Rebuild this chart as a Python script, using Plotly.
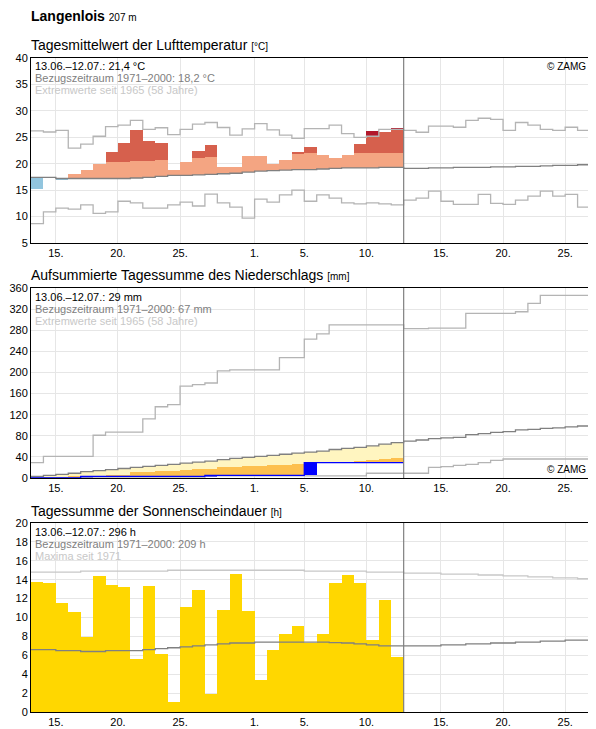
import plotly.graph_objects as go

# day index 0 = 13.06., 30 days observed, 45 days shown
tick_pos = [2, 7, 12, 18, 22, 27, 33, 38, 43]
tick_txt = ['15.', '20.', '25.', '1.', '5.', '10.', '15.', '20.', '25.']

# --- temperature ---
t_act = [15.3, 17.3, 17.0, 18.1, 18.85, 20.0, 22.25, 23.95, 26.4, 24.3,
         24.0, 18.85, 20.4, 22.4, 23.6, 19.4, 19.4, 21.5, 21.5, 20.0,
         20.7, 22.2, 23.2, 21.7, 21.1, 21.7, 23.8, 26.1, 26.0, 26.7]
t_thr = [20.2, 20.2, 20.2, 20.2, 20.2, 20.2, 20.3, 20.3, 20.5, 20.5,
         20.7, 20.7, 20.9, 21.1, 21.3, 21.3, 21.3, 21.5, 21.5, 21.7,
         21.7, 22.0, 22.0, 22.0, 22.0, 22.0, 22.0, 22.0, 22.0, 22.0]
t_mean = [17.4, 17.4, 17.2, 17.2, 17.2, 17.2, 17.2, 17.2, 17.3, 17.4,
          17.6, 17.8, 17.8, 17.9, 18.0, 18.1, 18.2, 18.4, 18.6, 18.7,
          18.8, 18.9, 18.9, 19.0, 19.1, 19.2, 19.2, 19.2, 19.3, 19.3,
          19.1, 19.1, 19.2, 19.2, 19.3, 19.3, 19.3, 19.4, 19.4, 19.5,
          19.5, 19.6, 19.7, 19.7, 19.8]
t_max = [26.2, 26.0, 26.3, 22.95, 23.7, 25.2, 27.0, 27.3, 28.2, 26.5,
         26.8, 25.5, 26.5, 27.5, 27.8, 26.85, 25.4, 26.6, 27.6, 26.4,
         25.4, 24.8, 26.65, 26.65, 27.3, 25.7, 25.0, 25.2, 26.5, 26.5,
         26.3, 25.95, 27.1, 27.1, 26.9, 28.2, 28.6, 28.4, 26.3, 27.8,
         27.3, 26.5, 26.3, 26.9, 26.3]
t_min = [8.65, 10.9, 11.6, 11.4, 12.2, 10.6, 10.9, 12.9, 12.6, 11.6,
         11.6, 12.2, 12.75, 12.0, 14.25, 12.6, 11.8, 9.7, 13.3, 12.75,
         14.1, 15.0, 12.9, 14.1, 13.5, 12.6, 12.4, 12.6, 12.4, 12.2,
         13.1, 13.5, 14.8, 12.9, 12.3, 12.3, 14.2, 12.5, 12.3, 13.1,
         13.85, 14.8, 13.85, 14.2, 11.8]

# --- precipitation (cumulative) ---
p_act = [0, 0, 0, 0, 3, 3, 3, 3, 3, 3, 3, 3, 3, 3, 5, 5, 5, 5, 5, 5,
         5, 5, 29, 29, 29, 29, 29, 29, 29, 29]
p_low = [1, 1.5, 2, 3, 3, 4, 5, 6, 11, 12, 13, 14, 15, 17, 18, 20, 21, 22,
         23, 24, 25, 26, 28, 29, 30, 31, 33, 35, 36, 37]
p_mean = [3, 5, 7, 9, 12, 14, 16, 18, 20, 22, 24, 26, 28, 30, 32, 35, 37,
          39, 41, 43, 45, 47, 49, 51, 54, 56, 58, 61, 64, 67,
          70, 72, 74.5, 76, 77, 82, 84, 86.5, 88, 91, 92, 94, 95, 97, 98.5]
p_max = [29, 41, 41, 41, 41, 81, 87, 87, 87, 112, 135, 139, 174, 177, 180,
         203, 205, 205, 205, 205, 228, 228, 263, 273, 290, 290, 290, 290,
         290, 290, 283, 283, 284, 284, 284, 312, 312, 312, 312, 315, 331,
         346, 346, 346, 346]
p_min = [0, 0, 0, 0, 0, 0, 0, 0, 0, 0, 0, 0, 0, 0, 4, 4, 4, 4, 4, 4, 4,
         4, 4, 4, 4, 4, 4, 9, 9, 9, 9, 9, 20, 21.5, 24, 26, 29, 33.5, 36,
         36, 36, 36, 36, 36, 36]

# --- sunshine ---
s_act = [13.8, 13.7, 11.5, 10.6, 7.9, 14.4, 13.4, 13.2, 5.65, 13.3,
         6.15, 1.1, 11.1, 12.9, 1.9, 10.8, 14.6, 10.7, 3.35, 6.6,
         8.3, 9.1, 7.25, 8.3, 13.7, 14.5, 13.7, 7.6, 11.9, 5.85]
s_mean = [6.6, 6.6, 6.5, 6.5, 6.4, 6.4, 6.5, 6.5, 6.5, 6.6, 6.7, 6.8,
          6.9, 7.0, 7.1, 7.2, 7.3, 7.3, 7.4, 7.4, 7.4, 7.4, 7.4, 7.4,
          7.35, 7.3, 7.2, 7.1, 7.0, 7.0, 7.0, 7.0, 7.0, 7.1, 7.1, 7.2,
          7.2, 7.3, 7.3, 7.4, 7.4, 7.5, 7.5, 7.6, 7.6]
s_max = [14.8, 14.8, 14.8, 14.8, 14.9, 14.9, 14.9, 14.9, 14.9, 14.9,
         14.9, 15.0, 15.0, 15.0, 15.0, 15.0, 15.0, 15.0, 15.0, 15.0,
         15.0, 15.0, 14.9, 14.9, 14.9, 14.9, 14.9, 14.8, 14.8, 14.8,
         14.7, 14.7, 14.7, 14.6, 14.6, 14.6, 14.5, 14.5, 14.4, 14.4,
         14.3, 14.3, 14.2, 14.2, 14.1]

n = len(t_act)
xc = [i + 0.5 for i in range(n)]
edges = list(range(46))

fig = go.Figure()


def bars(x, top, base, color, ax):
    fig.add_trace(go.Bar(x=x, y=[t - b for t, b in zip(top, base)], base=base,
                         width=1, marker=dict(color=color, line_width=0),
                         xaxis='x' + ax, yaxis='y' + ax, showlegend=False))


def step(vals, color, ax, w=1.3):
    fig.add_trace(go.Scatter(x=edges, y=vals + [vals[-1]], mode='lines',
                             line=dict(color=color, width=w, shape='hv'),
                             xaxis='x' + ax, yaxis='y' + ax, showlegend=False))


# temperature panel (axis 3 = top)
tm = t_mean[:n]
blue_base = [min(a, m) for a, m in zip(t_act, tm)]
bars(xc, tm, blue_base, '#92c5de', '3')
sal_top = [max(m, min(a, th)) for a, m, th in zip(t_act, tm, t_thr)]
bars(xc, sal_top, tm, '#f4a582', '3')
red_top = [max(th, min(a, mx)) for a, th, mx in zip(t_act, t_thr, t_max)]
bars(xc, red_top, t_thr, '#d6604d', '3')
cr_base = [min(mx, a) if a > mx else a for a, mx in zip(t_act, t_max)]
bars(xc, t_act, cr_base, '#b2182b', '3')
step(t_max, '#b4b4b4', '3')
step(t_min, '#b4b4b4', '3')
step(t_mean, '#808080', '3')

# precipitation panel (axis 2)
pm = p_mean[:n]
o_top = [max(a, lo) for a, lo in zip(p_act, p_low)]
bars(xc, o_top, p_act, '#fdc04f', '2')
y_top = [max(o, m) for o, m in zip(o_top, pm)]
bars(xc, y_top, o_top, '#fff5c0', '2')
prev = [0] + p_act[:-1]
bars(xc, p_act, prev, '#0000ff', '2')
step(p_max, '#b4b4b4', '2')
step(p_min, '#b4b4b4', '2')
step(p_mean, '#808080', '2')
fig.add_trace(go.Scatter(x=edges[:n + 1], y=p_act + [p_act[-1]], mode='lines',
                         line=dict(color='#0000ff', width=1.3, shape='hv'),
                         xaxis='x2', yaxis='y2', showlegend=False))

# sunshine panel (axis 1)
bars(xc, s_act, [0] * n, '#ffd700', '')
step(s_max, '#c8c8c8', '')
step(s_mean, '#808080', '')

font = 'Liberation Sans, Arial, sans-serif'
# page body has an 8px margin: work in screen pixels, shifted by 8
OFF = 8
H = 729.0 - OFF
L, R = 31 - OFF, 6 + OFF
W = 596.0 - L - R


def px(x):
    return (x - 31) / W


def py(y):
    return 1 - (y - OFF) / H


doms = {'3': (py(243), py(58)), '2': (py(478), py(288)), '': (py(712), py(523))}
yr = {'3': ([5, 40], 5), '2': ([0, 360], 40), '': ([0, 20], 2)}
lay = {}
for ax, d in doms.items():
    lay['xaxis' + ax] = dict(range=[0, 45], domain=[0, 1], anchor='y' + ax, tickvals=tick_pos,
                             ticktext=tick_txt, showgrid=True, gridcolor='#e6e6e6',
                             showline=True, linecolor='black', mirror=True, ticks='',
                             tickfont=dict(size=11, color='black'), zeroline=False,
                             automargin=False)
    lay['yaxis' + ax] = dict(range=yr[ax][0], dtick=yr[ax][1], domain=list(d), anchor='x' + ax,
                             showgrid=True, gridcolor='#e6e6e6', showline=True,
                             linecolor='black', mirror=True, ticks='', zeroline=False,
                             tickfont=dict(size=11, color='black'), automargin=False)
fig.update_layout(**lay)

shapes = []
for ax in ['3', '2', '']:
    shapes.append(dict(type='line', xref='x' + ax, yref='y' + ax + ' domain', x0=30, x1=30,
                       y0=0, y1=1, line=dict(color='#808080', width=1.2)))
fig.update_layout(shapes=shapes)

ann = []


def txt(x, y, s, size=12, color='black', xanchor='left', yanchor='top'):
    ann.append(dict(x=x, y=y, xref='paper', yref='paper', text=s, showarrow=False,
                    xanchor=xanchor, yanchor=yanchor, font=dict(size=size, color=color)))


txt(px(29), py(6), '<b>Langenlois</b> <span style="font-size:10px">207 m</span>', 14)
txt(px(29), py(35), 'Tagesmittelwert der Lufttemperatur <span style="font-size:10px">[°C]</span>', 14)
txt(px(29), py(265), 'Aufsummierte Tagessumme des Niederschlags <span style="font-size:10px">[mm]</span>', 14)
txt(px(29), py(501), 'Tagessumme der Sonnenscheindauer <span style="font-size:10px">[h]</span>', 14)
for y0, l1, l2, l3 in [(58, '13.06.–12.07.: 21,4 °C', 'Bezugszeitraum 1971–2000: 18,2 °C', 'Extremwerte seit 1965 (58 Jahre)'),
                       (289, '13.06.–12.07.: 29 mm', 'Bezugszeitraum 1971–2000: 67 mm', 'Extremwerte seit 1965 (58 Jahre)'),
                       (524, '13.06.–12.07.: 296 h', 'Bezugszeitraum 1971–2000: 209 h', 'Maxima seit 1971')]:
    txt(px(33), py(y0), l1, 11, 'black')
    txt(px(33), py(y0 + 12), l2, 11, '#808080')
    txt(px(33), py(y0 + 24), l3, 11, '#c8c8c8')
txt(px(588), py(59), '© ZAMG', 10, 'black', 'right')
txt(px(588), py(477), '© ZAMG', 10, 'black', 'right', 'bottom')
fig.update_layout(annotations=ann)

fig.update_layout(width=596, height=H, margin=dict(l=L, r=R, t=0, b=0, autoexpand=False),
                  plot_bgcolor='white', paper_bgcolor='white', barmode='overlay',
                  bargap=0, font=dict(family=font, color='black'))
fig.write_html('out.html')
